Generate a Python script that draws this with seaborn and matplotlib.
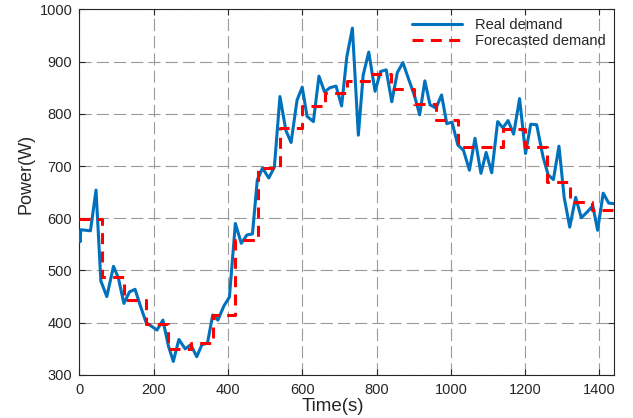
import matplotlib
matplotlib.use("Agg")
import matplotlib.pyplot as plt
import seaborn as sns
import pandas as pd

# ---- data ----
real_t = [0, 2, 4, 30, 45, 58, 74, 92, 105, 120, 135, 150, 165, 180, 195, 209, 225,
          240, 253, 268, 285, 300, 316, 330, 345, 359, 373, 389, 404, 420, 436, 451,
          466, 479, 493, 510, 525, 540, 556, 570, 586, 600, 613, 630, 645, 660, 675,
          691, 706, 720, 735, 751, 764, 779, 796, 811, 826, 841, 856, 871, 887, 902,
          916, 930, 944, 960, 975, 989, 1003, 1019, 1034, 1050, 1065, 1081, 1095,
          1110, 1126, 1140, 1154, 1169, 1185, 1201, 1215, 1231, 1248, 1262, 1276,
          1291, 1305, 1320, 1336, 1351, 1367, 1382, 1395, 1410, 1425, 1440]
real_p = [571, 555, 578, 576, 654, 480, 450, 508, 486, 437, 459, 464, 431, 400, 393,
          386, 405, 355, 326, 368, 350, 358, 335, 358, 361, 415, 405, 432, 449, 590,
          552, 568, 570, 673, 696, 677, 698, 833, 768, 745, 826, 851, 795, 785, 872,
          842, 850, 853, 815, 909, 964, 759, 874, 918, 843, 881, 884, 823, 879, 898,
          865, 835, 798, 863, 817, 811, 836, 781, 784, 740, 730, 692, 753, 686, 726,
          687, 785, 773, 787, 761, 829, 724, 780, 779, 718, 683, 674, 738, 640, 583,
          640, 601, 612, 624, 577, 648, 629, 628]

fc_t = [0, 60, 120, 180, 240, 300, 360, 420, 480, 540, 600, 660, 720, 780, 840,
        900, 960, 1020, 1080, 1140, 1200, 1260, 1320, 1380, 1440]
fc_p = [598, 487, 444, 398, 350, 362, 415, 558, 696, 772, 815, 839, 863, 877, 847,
        819, 789, 737, 737, 770, 737, 669, 632, 615, 615]

x_ticks = [0, 200, 400, 600, 800, 1000, 1200, 1400]
y_ticks = [300, 400, 500, 600, 700, 800, 900, 1000]

real_df = pd.DataFrame({"t": real_t, "p": real_p})
fc_df = pd.DataFrame({"t": fc_t, "p": fc_p})

sns.set_theme(style="white")
plt.rcParams["font.family"] = ["Liberation Sans", "DejaVu Sans"]

fig = plt.figure(figsize=(6.33, 4.18), dpi=100)
ax = fig.add_axes([0.1253, 0.1029, 0.8452, 0.8749])

dark = "#262626"

sns.lineplot(data=real_df, x="t", y="p", ax=ax, color="#0072BD", linewidth=2.2,
             label="Real demand", zorder=3)
sns.lineplot(data=fc_df, x="t", y="p", ax=ax, color="#FF0000", linewidth=2.2,
             drawstyle="steps-post", dashes=(3.6, 2.4), label="Forecasted demand",
             zorder=4)

ax.set_xlim(0, 1440)
ax.set_ylim(300, 1000)
ax.set_xticks(x_ticks)
ax.set_yticks(y_ticks)

ax.grid(True, color="#9a9a9a", linewidth=0.8, linestyle=(0, (11, 4.5)))
ax.set_axisbelow(True)

for s in ax.spines.values():
    s.set_visible(True)
    s.set_color(dark)
    s.set_linewidth(0.8)

ax.tick_params(direction="in", length=4, width=0.8, color=dark, labelcolor=dark,
               labelsize=10.5, top=True, right=True, bottom=True, left=True, pad=5)
ax.tick_params(axis="x", pad=6)

ax.set_xlabel("Time(s)", fontsize=13.5, color=dark)
ax.set_ylabel("Power(W)", fontsize=13, color=dark)
ax.xaxis.set_label_coords(0.474, -0.062)
ax.yaxis.set_label_coords(-0.083, 0.55)

leg = ax.legend(loc="upper right", bbox_to_anchor=(1.0, 1.0), frameon=False,
                fontsize=10.5, handlelength=3.4, handletextpad=0.9,
                labelspacing=0.15, borderaxespad=0.3, borderpad=0.3)
for t in leg.get_texts():
    t.set_color(dark)

fig.savefig("out.png", dpi=100)
